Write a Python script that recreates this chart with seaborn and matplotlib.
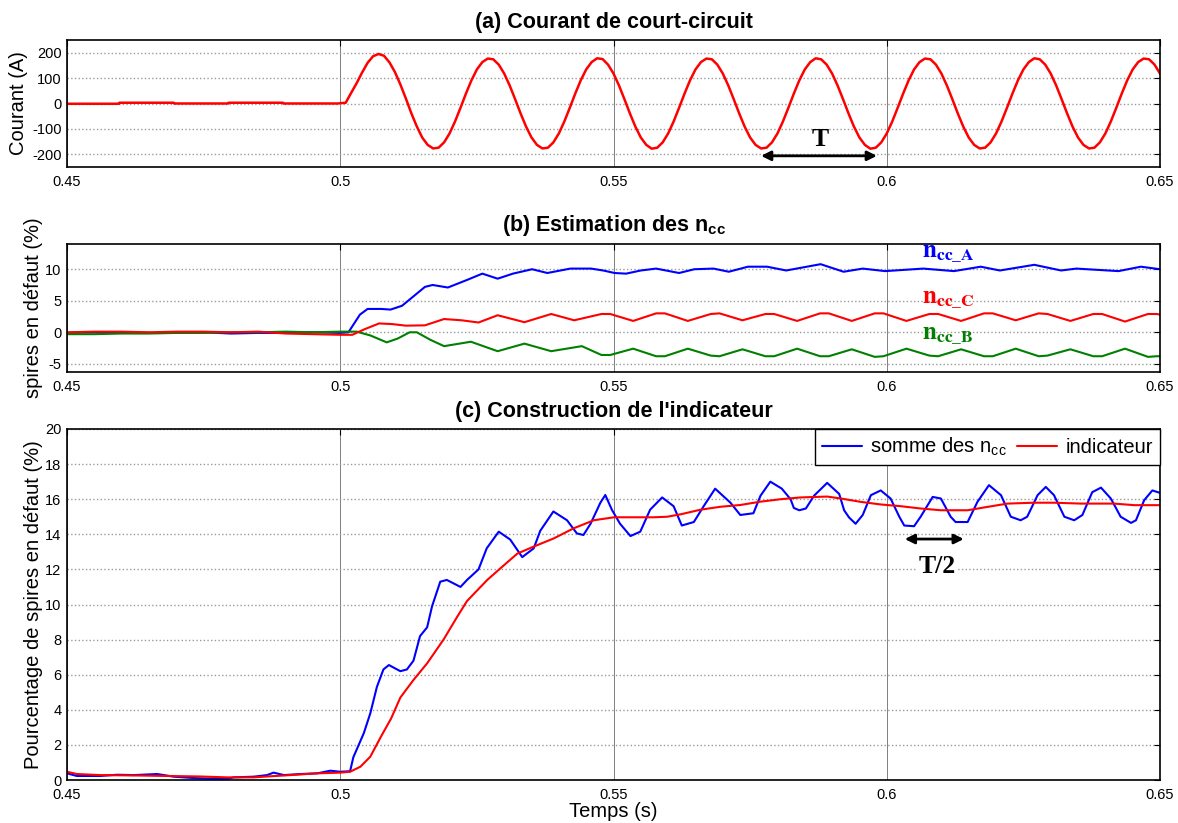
import numpy as np
import matplotlib
matplotlib.use('Agg')
import matplotlib.pyplot as plt
import seaborn as sns

# ---- (a) courant de court-circuit (A) ----
t_a_pre = [0.45, 0.4595, 0.4596, 0.4695, 0.4696, 0.4795, 0.4796, 0.4895, 0.4896, 0.4995]
i_a_pre = [-1, -1, 3, 3, 0, 0, 3, 3, 0, 0]
t_a_post = np.round(np.arange(0.500, 0.6505, 0.001), 3)
i_a_post = [1, 3, 42, 80, 122, 160, 186, 195, 188, 162,
            124, 75, 20, -38, -90, -134, -163, -177, -174, -153,
            -118, -71, -17, 39, 91, 134, 163,
            177, 174, 153, 118, 71, 17, -39, -91, -134, -163,
            -177, -174, -153, -118, -71, -17, 39, 91, 134, 163,
            178, 175, 153, 118, 71, 17, -39, -91, -134, -163,
            -178, -174, -153, -118, -71, -17, 39, 91, 134, 163,
            177, 174, 153, 118, 71, 17, -39, -91, -134, -163,
            -177, -174, -153, -118, -71, -17, 39, 91, 134, 163,
            178, 174, 153, 118, 71, 17, -39, -91, -134, -163,
            -178, -174, -153, -118, -71, -17, 39, 91, 134, 163,
            177, 174, 153, 118, 71, 17, -39, -91, -134, -163,
            -177, -174, -153, -118, -71, -17, 39, 91, 134, 163,
            178, 174, 153, 118, 71, 17, -39, -91, -134, -163,
            -177, -174, -153, -118, -71, -17, 39, 91, 134, 163,
            177, 174, 153, 118]

# ---- (b) estimation des ncc (%) ----
t_ncc_a = [0.45, 0.455, 0.46, 0.465, 0.47, 0.475, 0.48, 0.485, 0.49, 0.495,
           0.5, 0.5015, 0.5036, 0.505, 0.5075, 0.5092, 0.5113, 0.5134, 0.5155, 0.5169,
           0.5197, 0.5232, 0.526, 0.5288, 0.5316, 0.5351, 0.5379, 0.5421, 0.5459, 0.5481,
           0.5502, 0.5523, 0.555, 0.5578, 0.562, 0.5648, 0.5683, 0.5711, 0.5746, 0.5781,
           0.5816, 0.5879, 0.5921, 0.5956, 0.5997, 0.6067, 0.6123, 0.6172, 0.6207, 0.627,
           0.6319, 0.6347, 0.6424, 0.6465, 0.65]
ncc_a = [-0.1, 0.0, 0.0, -0.1, -0.1, 0.0, -0.2, -0.1, -0.1, 0.0,
         -0.1, 0.0, 2.8, 3.7, 3.7, 3.6, 4.2, 5.7, 7.2, 7.5,
         7.1, 8.3, 9.3, 8.5, 9.3, 10.0, 9.4, 10.1, 10.1, 9.8,
         9.4, 9.3, 9.8, 10.1, 9.4, 10.0, 10.1, 9.6, 10.4, 10.4,
         9.8, 10.8, 9.6, 10.1, 9.7, 10.1, 9.7, 10.4, 9.8, 10.7,
         9.8, 10.1, 9.7, 10.4, 10.0]

t_ncc_c = [0.45, 0.455, 0.46, 0.465, 0.47, 0.475, 0.48, 0.485, 0.49, 0.495,
           0.5, 0.5022, 0.5045, 0.5071, 0.5095, 0.512, 0.5155, 0.519, 0.5222, 0.5253,
           0.5288, 0.5337, 0.5386, 0.5428, 0.5478, 0.5494, 0.5536, 0.5578, 0.5594, 0.5636,
           0.5678, 0.5694, 0.5736, 0.5778, 0.5794, 0.5836, 0.5878, 0.5894, 0.5936, 0.5978,
           0.5994, 0.6036, 0.6078, 0.6094, 0.6136, 0.6178, 0.6194, 0.6236, 0.6278, 0.6294,
           0.6336, 0.6378, 0.6394, 0.6436, 0.6478, 0.6494, 0.65]
ncc_c = [0.0, 0.1, 0.1, 0.0, 0.1, 0.1, 0.0, 0.1, -0.2, -0.3,
         -0.4, -0.4, 0.5, 1.4, 1.3, 1.05, 1.1, 2.1, 1.9, 1.55,
         2.7, 1.6, 2.9, 1.9, 2.9, 2.9, 1.8, 3.0, 3.0, 1.8,
         2.9, 3.0, 1.9, 2.9, 2.9, 1.8, 3.0, 3.0, 1.8, 3.0,
         3.0, 1.8, 2.9, 2.9, 1.8, 3.0, 3.0, 1.9, 3.0, 2.9,
         1.8, 2.9, 2.9, 1.7, 2.9, 2.9, 2.8]

t_ncc_b = [0.45, 0.455, 0.46, 0.465, 0.47, 0.475, 0.48, 0.485, 0.49, 0.495,
           0.5, 0.503, 0.5055, 0.5085, 0.5105, 0.5127, 0.514, 0.5165, 0.519, 0.5239,
           0.5288, 0.5337, 0.5386, 0.5442, 0.5478, 0.5494, 0.5536, 0.5578, 0.5594, 0.5636,
           0.5678, 0.5694, 0.5736, 0.5778, 0.5794, 0.5836, 0.5878, 0.5894, 0.5936, 0.5978,
           0.5994, 0.6036, 0.6078, 0.6094, 0.6136, 0.6178, 0.6194, 0.6236, 0.6278, 0.6294,
           0.6336, 0.6378, 0.6394, 0.6436, 0.6478, 0.6494, 0.65]
ncc_b = [-0.3, -0.3, -0.2, -0.2, -0.1, -0.1, 0.0, 0.0, 0.1, 0.0,
         0.1, 0.1, -0.5, -1.6, -1.0, 0.0, 0.0, -1.2, -2.2, -1.5,
         -3.0, -1.8, -3.0, -2.2, -3.6, -3.6, -2.6, -3.8, -3.8, -2.6,
         -3.7, -3.8, -2.7, -3.8, -3.8, -2.6, -3.8, -3.8, -2.7, -3.9,
         -3.8, -2.6, -3.7, -3.8, -2.7, -3.8, -3.8, -2.6, -3.8, -3.7,
         -2.7, -3.8, -3.8, -2.6, -3.9, -3.8, -3.8]

# ---- (c) construction de l'indicateur (%) ----
t_somme = [0.45, 0.4518, 0.4561, 0.4592, 0.4622, 0.4665, 0.4695, 0.4732, 0.4756, 0.4793,
           0.4805, 0.4842, 0.4866, 0.4878, 0.4897, 0.4927, 0.4958, 0.4982, 0.5, 0.5018,
           0.5024, 0.5043, 0.5055, 0.5067, 0.5079, 0.5089, 0.511, 0.5122, 0.5134, 0.5146,
           0.5159, 0.5168, 0.5183, 0.5195, 0.522, 0.5232, 0.5253, 0.5268, 0.529, 0.5311,
           0.5333, 0.5354, 0.5366, 0.539, 0.5415, 0.5433, 0.5445, 0.5458, 0.5476, 0.5485,
           0.5497, 0.5512, 0.5531, 0.5549, 0.5567, 0.5589, 0.561, 0.5625, 0.5647, 0.5665,
           0.5686, 0.5714, 0.5732, 0.5756, 0.5769, 0.5787, 0.5808, 0.5824, 0.583, 0.584,
           0.5852, 0.5867, 0.5891, 0.5913, 0.5922, 0.5931, 0.5943, 0.5956, 0.5971, 0.5989,
           0.6007, 0.6023, 0.6032, 0.605, 0.6062, 0.6084, 0.6099, 0.6117, 0.6126, 0.6148,
           0.6166, 0.6187, 0.6209, 0.6227, 0.6245, 0.6257, 0.6276, 0.6291, 0.6306, 0.6325,
           0.6343, 0.6358, 0.6376, 0.6392, 0.641, 0.6428, 0.6447, 0.6456, 0.6471, 0.6486,
           0.65]
somme = [0.38, 0.23, 0.23, 0.30, 0.28, 0.34, 0.19, 0.11, 0.08, 0.06,
         0.15, 0.19, 0.28, 0.42, 0.28, 0.34, 0.38, 0.53, 0.47, 0.5,
         1.3, 2.66, 3.8, 5.3, 6.3, 6.55, 6.2, 6.3, 6.8, 8.2,
         8.7, 9.9, 11.3, 11.4, 11.0, 11.4, 12.0, 13.2, 14.15, 13.7,
         12.7, 13.2, 14.2, 15.3, 14.8, 14.05, 13.96, 14.6, 15.8, 16.24,
         15.4, 14.6, 13.9, 14.15, 15.4, 16.1, 15.6, 14.5, 14.7, 15.6,
         16.6, 15.8, 15.1, 15.2, 16.2, 17.0, 16.6, 16.0, 15.5, 15.37,
         15.47, 16.2, 16.93, 16.3, 15.37, 14.96, 14.6, 15.1, 16.23, 16.5,
         16.04, 15.0, 14.5, 14.46, 15.0, 16.13, 16.04, 15.0, 14.7, 14.7,
         15.85, 16.8, 16.23, 15.0, 14.8, 15.0, 16.23, 16.7, 16.23, 15.0,
         14.8, 15.1, 16.4, 16.66, 16.04, 15.0, 14.65, 14.8, 15.94, 16.5,
         16.36]

t_ind = [0.45, 0.4518, 0.4561, 0.4622, 0.4683, 0.4744, 0.4793, 0.4842, 0.4866, 0.4909,
         0.4958, 0.5, 0.5018, 0.5037, 0.5055, 0.5075, 0.5093, 0.511, 0.5134, 0.5159,
         0.5189, 0.5214, 0.5232, 0.5269, 0.5293, 0.5324, 0.5354, 0.5391, 0.5427, 0.5464,
         0.5501, 0.5537, 0.5574, 0.5598, 0.5623, 0.5659, 0.5696, 0.5732, 0.5769, 0.5806,
         0.5842, 0.5891, 0.5916, 0.5952, 0.5989, 0.6026, 0.6062, 0.6099, 0.6148, 0.6184,
         0.6221, 0.627, 0.6306, 0.6355, 0.6416, 0.6453, 0.65]
indicateur = [0.47, 0.34, 0.28, 0.26, 0.23, 0.2, 0.15, 0.15, 0.2, 0.28,
              0.38, 0.42, 0.47, 0.76, 1.33, 2.5, 3.5, 4.7, 5.7, 6.65,
              8.0, 9.3, 10.2, 11.4, 12.06, 12.9, 13.3, 13.77, 14.34, 14.8,
              14.97, 14.97, 14.97, 15.0, 15.14, 15.4, 15.57, 15.67, 15.86, 16.0,
              16.1, 16.15, 16.04, 15.85, 15.7, 15.6, 15.47, 15.37, 15.37, 15.56,
              15.75, 15.8, 15.8, 15.75, 15.75, 15.66, 15.66]

x_ticks = [0.45, 0.5, 0.55, 0.6, 0.65]
x_labels = ['0.45', '0.5', '0.55', '0.6', '0.65']

sns.set_theme(style='white')
plt.rcParams['font.family'] = ['Liberation Sans', 'DejaVu Sans']
plt.rcParams['axes.unicode_minus'] = False
plt.rcParams['mathtext.fontset'] = 'custom'
plt.rcParams['mathtext.rm'] = 'Liberation Sans'
plt.rcParams['mathtext.it'] = 'Liberation Sans:italic'
plt.rcParams['mathtext.bf'] = 'Liberation Sans:bold'

W, H = 1178, 823
fig = plt.figure(figsize=(W / 100, H / 100), dpi=100)


def box(left, top, right, bottom):
    return [left / W, 1 - bottom / H, (right - left) / W, (bottom - top) / H]


def style_axes(ax, ylim, yticks, title):
    ax.set_xlim(0.45, 0.65)
    ax.set_ylim(*ylim)
    ax.set_xticks(x_ticks)
    ax.set_xticklabels(x_labels)
    ax.set_yticks(yticks)
    ax.tick_params(direction='in', top=True, right=True, length=4, width=0.8,
                   labelsize=10.5, pad=4, colors='black', labelcolor='black')
    ax.tick_params(axis='x', pad=5.5)
    ax.set_axisbelow(True)
    ax.grid(axis='y', color='#9a9a9a', linestyle=':', linewidth=1.0)
    ax.grid(axis='x', color='#808080', linestyle='-', linewidth=0.7)
    for s in ax.spines.values():
        s.set_visible(True)
        s.set_color('black')
        s.set_linewidth(1.2)
    ax.set_xlabel('')
    ax.set_title(title, fontsize=15.5, fontweight='bold', color='black', pad=9)


# (a)
ax1 = fig.add_axes(box(67, 40, 1160, 167))
sns.lineplot(x=list(t_a_pre) + list(t_a_post), y=list(i_a_pre) + list(i_a_post),
             ax=ax1, color='#ff0000', linewidth=1.8, estimator=None, sort=False)
style_axes(ax1, (-250, 250), [-200, -100, 0, 100, 200], '(a) Courant de court-circuit')
ax1.set_ylabel('Courant (A)', fontsize=14.5, color='black')
ax1.yaxis.set_label_coords(-0.036, 0.5)
ax1.annotate('', xy=(0.5982, -206), xytext=(0.5770, -206),
             arrowprops=dict(arrowstyle='<|-|>', color='black', lw=2, mutation_scale=14,
                             shrinkA=0, shrinkB=0))
ax1.text(0.5878, -166, 'T', family='Liberation Serif', fontweight='bold', fontsize=18.5,
         ha='center', va='baseline', color='black')

# (b)
ax2 = fig.add_axes(box(67, 244, 1160, 372))
sns.lineplot(x=t_ncc_a, y=ncc_a, ax=ax2, color='#0000ff', linewidth=1.5, estimator=None, sort=False)
sns.lineplot(x=t_ncc_b, y=ncc_b, ax=ax2, color='#008000', linewidth=1.5, estimator=None, sort=False)
sns.lineplot(x=t_ncc_c, y=ncc_c, ax=ax2, color='#ff0000', linewidth=1.5, estimator=None, sort=False)
style_axes(ax2, (-6.3, 14), [-5, 0, 5, 10], r'(b) Estimation des n$_{\mathbf{cc}}$')
ax2.set_ylabel('spires en défaut (%)', fontsize=14.5, color='black')
ax2.yaxis.set_label_coords(-0.022, 0.5)
for lab, yv, col in [(r'$\mathbf{n_{cc\_A}}$', 11.8, '#0000ff'),
                     (r'$\mathbf{n_{cc\_C}}$', 4.6, '#ff0000'),
                     (r'$\mathbf{n_{cc\_B}}$', -1.2, '#008000')]:
    ax2.text(0.6065, yv, lab, math_fontfamily='stix', fontsize=18, color=col,
             ha='left', va='baseline')

# (c)
ax3 = fig.add_axes(box(67, 429, 1160, 780))
sns.lineplot(x=t_somme, y=somme, ax=ax3, color='#0000ff', linewidth=1.5, estimator=None,
             sort=False, label=r'somme des n$_{\mathregular{cc}}$')
sns.lineplot(x=t_ind, y=indicateur, ax=ax3, color='#ff0000', linewidth=1.5, estimator=None,
             sort=False, label='indicateur')
style_axes(ax3, (0, 20), list(range(0, 21, 2)), "(c) Construction de l'indicateur")
ax3.set_ylabel('Pourcentage de spires en défaut (%)', fontsize=14.5, color='black')
ax3.yaxis.set_label_coords(-0.022, 0.5)
ax3.set_xlabel('Temps (s)', fontsize=14.5, color='black', labelpad=0)
leg = ax3.legend(loc='upper right', ncol=2, fontsize=14.5, frameon=True, fancybox=False,
                 framealpha=1, edgecolor='black', borderaxespad=0, borderpad=0.35,
                 handlelength=2.0, handletextpad=0.4, columnspacing=0.5)
leg.get_frame().set_linewidth(1.0)
for txt in leg.get_texts():
    txt.set_color('black')
ax3.annotate('', xy=(0.6141, 13.73), xytext=(0.6033, 13.73),
             arrowprops=dict(arrowstyle='<|-|>', color='black', lw=2, mutation_scale=14,
                             shrinkA=0, shrinkB=0))
ax3.text(0.6092, 11.8, 'T/2', family='Liberation Serif', fontweight='bold', fontsize=18.5,
         ha='center', va='baseline', color='black',
         bbox=dict(facecolor='white', edgecolor='none', pad=1))

fig.savefig('out.png', dpi=100)
